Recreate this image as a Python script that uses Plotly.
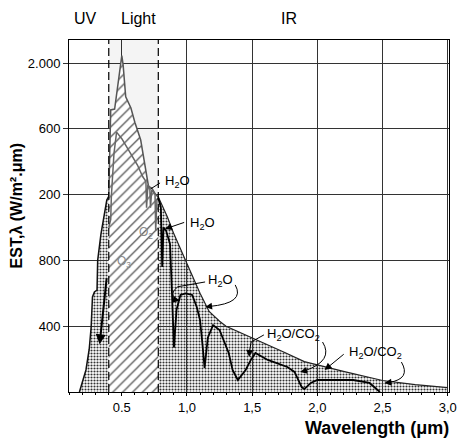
import plotly.graph_objects as go

# ---------------- data ----------------
# extraterrestrial spectrum, UV part (dotted)
et_uv_x = [0.175, 0.20, 0.225, 0.25, 0.265, 0.275, 0.29, 0.31, 0.315, 0.34, 0.365, 0.385, 0.40]
et_uv_y = [0, 60, 134, 260, 395, 578, 608, 620, 800, 960, 1088, 1167, 1190]
# extraterrestrial spectrum, visible part (hatched)
et_vis_x = [0.40, 0.405, 0.415, 0.445, 0.465, 0.49, 0.50, 0.51, 0.53, 0.57, 0.60, 0.645, 0.69, 0.705, 0.73, 0.76, 0.78]
et_vis_y = [1190, 1450, 1715, 1720, 1830, 1990, 2045, 1990, 1795, 1727, 1640, 1532, 1307, 1250, 1240, 1200, 1185]
# extraterrestrial spectrum, IR part (dotted)
et_ir_x = [0.78, 0.80, 0.85, 0.90, 0.95, 1.0, 1.05, 1.10, 1.17, 1.25, 1.30, 1.40, 1.5, 1.6, 1.75, 1.9, 2.0, 2.2, 2.5, 2.75, 3.0]
et_ir_y = [1185, 1150, 1064, 960, 870, 780, 680, 600, 490, 430, 400, 365, 330, 295, 240, 185, 164, 125, 70, 45, 27]
# ground level spectrum, visible (grey line)
g_vis_x = [0.40, 0.415, 0.42, 0.44, 0.46, 0.50, 0.575, 0.62, 0.66, 0.685, 0.69, 0.70, 0.715, 0.72, 0.73, 0.755, 0.76, 0.77, 0.78]
g_vis_y = [1000, 1050, 1190, 1450, 1580, 1540, 1440, 1380, 1310, 1280, 1120, 1260, 1240, 1120, 1230, 1200, 980, 1170, 1180]
# ground level spectrum, IR (black line)
g_ir_x = [0.78, 0.80, 0.81, 0.82, 0.84, 0.87, 0.885, 0.90, 0.92, 0.95, 0.99, 1.04, 1.075, 1.10, 1.12, 1.135, 1.16, 1.20, 1.25,
          1.32, 1.35, 1.39, 1.45, 1.49, 1.525, 1.55, 1.62, 1.77, 1.825, 1.88, 1.90, 1.95, 2.0, 2.1, 2.275, 2.4, 2.48]
g_ir_y = [1180, 1120, 760, 1000, 980, 900, 600, 270, 500, 590, 600, 590, 517, 438, 280, 146, 330, 407, 377,
          237, 134, 73, 134, 195, 237, 225, 195, 152, 122, 30, 18, 55, 73, 73, 73, 55, 0]

x_tickvals = [0.5, 1.0, 1.5, 2.0, 2.5, 3.0]
x_ticktext = ["0.5", "1,0", "1,5", "2,0", "2,5", "3,0"]
y_tickvals = [400, 800, 1200, 1600, 2000]
y_ticktext = ["400", "800", "200", "600", "2.000"]
band_edges = [0.40, 0.78]
band_labels = ["UV", "Light", "IR"]

X_RANGE = [0.095, 3.01]
Y_RANGE = [0, 2140]

FONT = "Liberation Sans, Arial, Helvetica, sans-serif"
CLEAR = "rgba(0,0,0,0)"

fig = go.Figure()

# light band shading above the visible curve
fig.add_trace(go.Scatter(
    x=et_vis_x + [band_edges[1], band_edges[0]],
    y=et_vis_y + [Y_RANGE[1], Y_RANGE[1]],
    fill="toself", fillcolor="rgba(0,0,0,0.045)", line=dict(width=0),
    mode="lines", hoverinfo="skip"))

dots = dict(shape=".", fgcolor="#333333", bgcolor=CLEAR, size=3, solidity=0.4, fillmode="replace")
fig.add_trace(go.Scatter(x=et_uv_x, y=et_uv_y, fill="tozeroy", fillcolor=CLEAR, fillpattern=dots,
                         mode="lines", line=dict(color="#111111", width=1.5)))
fig.add_trace(go.Scatter(x=et_ir_x, y=et_ir_y, fill="tozeroy", fillcolor=CLEAR, fillpattern=dots,
                         mode="lines", line=dict(color="#222222", width=1.2)))
fig.add_trace(go.Scatter(x=et_vis_x, y=et_vis_y, fill="tozeroy", fillcolor=CLEAR,
                         fillpattern=dict(shape="/", fgcolor="#555555", bgcolor="white", size=7,
                                          solidity=0.18, fillmode="replace"),
                         mode="lines", line=dict(color="#555555", width=1.5)))
fig.add_trace(go.Scatter(x=g_vis_x, y=g_vis_y, mode="lines",
                         line=dict(color="#666666", width=1.5)))
fig.add_trace(go.Scatter(x=g_ir_x, y=g_ir_y, mode="lines",
                         line=dict(color="#000000", width=1.8)))

# dashed band limits
for xb in band_edges:
    fig.add_shape(type="line", xref="x", yref="paper", x0=xb, x1=xb, y0=0, y1=1.0,
                  line=dict(color="black", width=1.2, dash="8px,4px"))

# band labels
for lab, px in zip(band_labels, [86, 140, 294]):
    fig.add_annotation(text=lab, xref="paper", yref="paper", x=(px - 69) / 388, y=1.0625,
                       xanchor="center", yanchor="middle",
                       showarrow=False, font=dict(size=16, family=FONT, color="black"))

def label(txt, x, y, color="black", size=13):
    fig.add_annotation(text=txt, x=x, y=y, xref="x", yref="y", showarrow=False,
                       xanchor="left", yanchor="middle", font=dict(size=size, family=FONT, color=color))

def arrow(x, y, ax, ay, head=2, width=1, size=1.4):
    fig.add_annotation(text="", x=x, y=y, ax=ax, ay=ay, xref="x", yref="y", axref="x", ayref="y",
                       showarrow=True, arrowhead=head, arrowsize=size, arrowwidth=width,
                       arrowcolor="black", standoff=0, startstandoff=0)

def curve(x0, y0, cx, cy, x1, y1):
    fig.add_shape(type="path", xref="x", yref="y",
                  path=f"M {x0},{y0} Q {cx},{cy} {x1},{y1}",
                  line=dict(color="black", width=1))

# labels and arrows
label("H<sub>2</sub>O", 0.815, 1277)
arrow(0.72, 1234, 0.805, 1277, head=0)

label("H<sub>2</sub>O", 1.01, 1027)
arrow(0.831, 991, 0.99, 1034)

label("H<sub>2</sub>O", 1.145, 680)
fig.add_shape(type="path", xref="x", yref="y",
              path="M 1.139,669 L 0.93,640 Q 0.86,600 0.915,560",
              line=dict(color="black", width=1))
arrow(0.945, 555, 0.915, 560)
curve(1.37, 651, 1.45, 540, 1.17, 520)
arrow(1.139, 517, 1.17, 520)

label("H<sub>2</sub>O/CO<sub>2</sub>", 1.595, 347)
fig.add_shape(type="path", xref="x", yref="y",
              path="M 1.59,347 L 1.492,304 L 1.48,250",
              line=dict(color="black", width=1))
arrow(1.477, 213, 1.48, 250)
curve(2.04, 304, 2.13, 190, 1.9, 128)
arrow(1.868, 122, 1.9, 128)

label("H<sub>2</sub>O/CO<sub>2</sub>", 2.225, 243)
arrow(2.056, 134, 2.214, 237)
curve(2.645, 182, 2.72, 80, 2.55, 58)
arrow(2.515, 55, 2.55, 58)

# ozone arrow in the UV
arrow(0.33, 290, 0.385, 700, head=2, width=2, size=1)

label("O<sub>2</sub>", 0.62, 967, color="#888888", size=12)
label("O<sub>3</sub>", 0.45, 790, color="#888888", size=12)

# axis titles
fig.add_annotation(text="<b>EST,λ (W/m².μm)</b>", xref="paper", yref="paper", x=-0.137, y=0.53,
                   xanchor="center", yanchor="middle",
                   textangle=-90, showarrow=False, font=dict(size=16, family=FONT, color="black"))
fig.add_annotation(text="<b>Wavelength (μm)</b>", xref="paper", yref="paper", x=1.005, y=-0.102,
                   xanchor="right", yanchor="middle", showarrow=False,
                   font=dict(size=18, family=FONT, color="black"))

fig.update_layout(
    width=460, height=440,
    margin=dict(l=69, r=3, t=40, b=48),
    plot_bgcolor="white", paper_bgcolor="white",
    showlegend=False,
    font=dict(family=FONT, size=13, color="black"),
    xaxis=dict(range=X_RANGE, tickmode="array", tickvals=x_tickvals, ticktext=x_ticktext,
               showgrid=True, gridcolor="#333333", gridwidth=1, zeroline=False,
               ticks="outside", ticklen=3, tickcolor="black", ticklabeloverflow="allow",
               showline=True, mirror=True, linecolor="black", linewidth=1,
               tickfont=dict(size=13),
               minor=dict(tickvals=[round(0.1 * i, 1) for i in range(1, 31)], ticks="outside",
                          ticklen=2, tickcolor="black", showgrid=False)),
    yaxis=dict(range=Y_RANGE, tickmode="array", tickvals=y_tickvals, ticktext=y_ticktext,
               showgrid=True, gridcolor="#333333", gridwidth=1, zeroline=False,
               ticks="outside", ticklen=5, tickcolor="#333333",
               showline=True, mirror=True, linecolor="black", linewidth=1,
               tickfont=dict(size=13)),
)

fig.write_html("out.html")
